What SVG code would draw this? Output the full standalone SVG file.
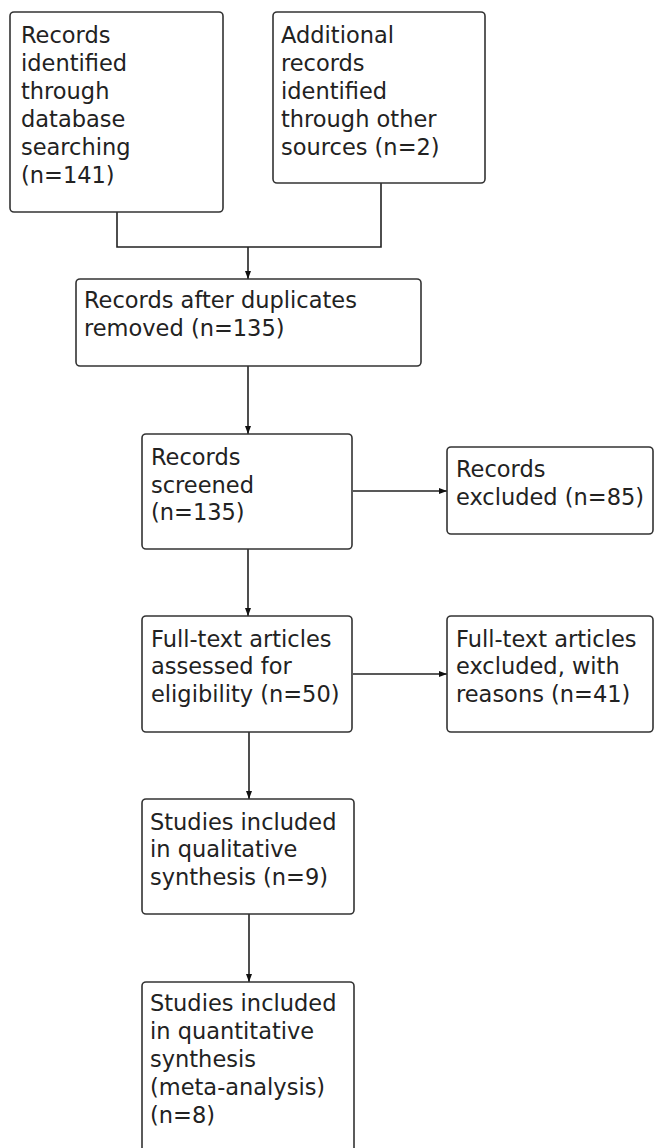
<svg xmlns="http://www.w3.org/2000/svg" width="664" height="1148" viewBox="0 0 664 1148">
<defs>
<style>
.box{fill:#fff;stroke:#333;stroke-width:1.6}
.t{font-family:"DejaVu Sans",Verdana,sans-serif;font-size:22.5px;fill:#222}
.c{fill:none;stroke:#222;stroke-width:1.6}
</style>
<marker id="ah" viewBox="0 0 8 8" refX="8" refY="4" markerWidth="8" markerHeight="8" markerUnits="userSpaceOnUse" orient="auto">
<path d="M0,1 L8,4 L0,7 Z" fill="#111"/>
</marker>
</defs>
<rect width="664" height="1148" fill="#fff"/>
<g id="connectors">
<path class="c" d="M117,212 V247 H381 V183"/>
<path class="c" d="M248,247 V279" marker-end="url(#ah)"/>
<path class="c" d="M248,366 V434" marker-end="url(#ah)"/>
<path class="c" d="M353,491 H447" marker-end="url(#ah)"/>
<path class="c" d="M248,549 V616" marker-end="url(#ah)"/>
<path class="c" d="M353,674 H447" marker-end="url(#ah)"/>
<path class="c" d="M249,732 V799" marker-end="url(#ah)"/>
<path class="c" d="M249,914 V982" marker-end="url(#ah)"/>
</g>
<g id="n1">
<rect class="box" x="10" y="12" width="213" height="200" rx="4"/>
<text class="t"><tspan x="21" y="43">Records</tspan><tspan x="21" y="71">identified</tspan><tspan x="21" y="99">through</tspan><tspan x="21" y="127">database</tspan><tspan x="21" y="155">searching</tspan><tspan x="21" y="183">(n=141)</tspan></text>
</g>
<g id="n2">
<rect class="box" x="273" y="12" width="212" height="171" rx="4"/>
<text class="t"><tspan x="281" y="43">Additional</tspan><tspan x="281" y="71">records</tspan><tspan x="281" y="99">identified</tspan><tspan x="281" y="127">through other</tspan><tspan x="281" y="155">sources (n=2)</tspan></text>
</g>
<g id="n3">
<rect class="box" x="76" y="279" width="345" height="87" rx="4"/>
<text class="t"><tspan x="84" y="308">Records after duplicates</tspan><tspan x="84" y="336">removed (n=135)</tspan></text>
</g>
<g id="n4">
<rect class="box" x="142" y="434" width="210" height="115" rx="4"/>
<text class="t"><tspan x="151" y="465">Records</tspan><tspan x="151" y="493">screened</tspan><tspan x="151" y="520">(n=135)</tspan></text>
</g>
<g id="n5">
<rect class="box" x="447" y="447" width="206" height="87" rx="4"/>
<text class="t"><tspan x="456" y="477">Records</tspan><tspan x="456" y="505">excluded (n=85)</tspan></text>
</g>
<g id="n6">
<rect class="box" x="142" y="616" width="210" height="116" rx="4"/>
<text class="t"><tspan x="151" y="647">Full-text articles</tspan><tspan x="151" y="674">assessed for</tspan><tspan x="151" y="702">eligibility (n=50)</tspan></text>
</g>
<g id="n7">
<rect class="box" x="447" y="616" width="206" height="116" rx="4"/>
<text class="t"><tspan x="456" y="647">Full-text articles</tspan><tspan x="456" y="674">excluded, with</tspan><tspan x="456" y="702">reasons (n=41)</tspan></text>
</g>
<g id="n8">
<rect class="box" x="142" y="799" width="212" height="115" rx="4"/>
<text class="t"><tspan x="150" y="830">Studies included</tspan><tspan x="150" y="857">in qualitative</tspan><tspan x="150" y="885">synthesis (n=9)</tspan></text>
</g>
<g id="n9">
<rect class="box" x="142" y="982" width="212" height="180" rx="4"/>
<text class="t"><tspan x="150" y="1011">Studies included</tspan><tspan x="150" y="1039">in quantitative</tspan><tspan x="150" y="1067">synthesis</tspan><tspan x="150" y="1095">(meta-analysis)</tspan><tspan x="150" y="1123">(n=8)</tspan></text>
</g>
</svg>
